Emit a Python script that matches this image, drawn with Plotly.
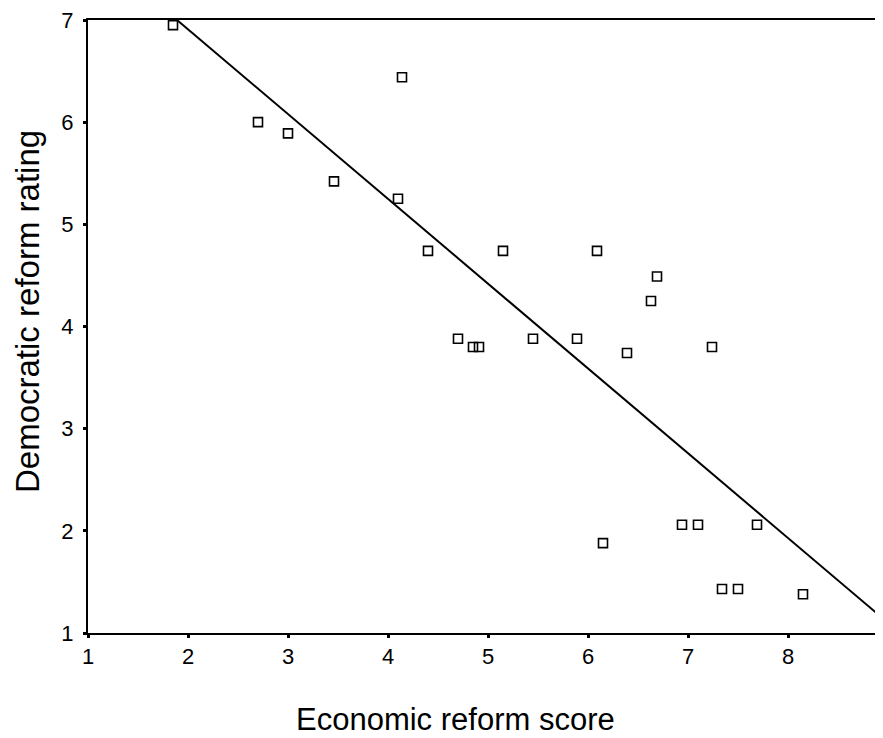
import plotly.graph_objects as go

# Data
econ_score = [1.85, 2.70, 3.00, 3.46, 4.14, 4.10, 4.40, 5.15, 6.09, 4.70,
              4.85, 4.91, 5.45, 5.89, 6.39, 6.69, 6.63, 7.24, 6.15, 6.94,
              7.10, 7.69, 7.34, 7.50, 8.15]
demo_rating = [6.95, 6.00, 5.89, 5.42, 6.44, 5.25, 4.74, 4.74, 4.74, 3.88,
               3.80, 3.80, 3.88, 3.88, 3.74, 4.49, 4.25, 3.80, 1.88, 2.06,
               2.06, 2.06, 1.43, 1.43, 1.38]

# Fitted regression line end points
fit_x = [1.89, 9.0]
fit_y = [7.0, 1.10]

x_ticks = [1, 2, 3, 4, 5, 6, 7, 8]
y_ticks = [1, 2, 3, 4, 5, 6, 7]

FONT = "Liberation Sans, Arial, sans-serif"

fig = go.Figure()
fig.add_trace(go.Scatter(
    x=fit_x, y=fit_y, mode="lines",
    line=dict(color="black", width=2),
    showlegend=False, hoverinfo="skip", cliponaxis=True,
))
fig.add_trace(go.Scatter(
    x=econ_score, y=demo_rating, mode="markers",
    marker=dict(symbol="square-open", size=9, color="black",
                line=dict(color="black", width=1.6)),
    showlegend=False, cliponaxis=False,
))

# page body has an 8px default margin, so the figure is 8px smaller
fig.update_layout(
    width=875, height=730,
    margin=dict(l=80, r=0, t=12, b=105),
    paper_bgcolor="white", plot_bgcolor="white",
    font=dict(family=FONT, color="black"),
    xaxis=dict(
        range=[1, 8.95], tickvals=x_ticks, ticktext=[str(v) for v in x_ticks],
        showgrid=False, zeroline=False,
        showline=True, linecolor="black", linewidth=2, mirror=True,
        ticks="outside", ticklen=3, tickwidth=3, tickcolor="black",
        ticklabeloverflow="allow",
        tickfont=dict(size=22, family=FONT, color="black"),
    ),
    yaxis=dict(
        range=[1, 7], tickvals=y_ticks, ticktext=[str(v) for v in y_ticks],
        showgrid=False, zeroline=False,
        showline=True, linecolor="black", linewidth=2,
        ticks="outside", ticklen=3, tickwidth=3, tickcolor="black",
        ticklabelstandoff=5, ticklabeloverflow="allow",
        tickfont=dict(size=22, family=FONT, color="black"),
    ),
    annotations=[
        dict(text="Economic reform score", xref="paper", yref="paper",
             x=(455 - 88) / 795, y=(633 - 719) / 613,
             xanchor="center", yanchor="middle", showarrow=False,
             font=dict(size=31, family=FONT, color="black")),
        dict(text="Democratic reform rating", xref="paper", yref="paper",
             x=(27 - 88) / 795, y=(633 - 312) / 613, textangle=-90,
             xanchor="center", yanchor="middle", showarrow=False,
             font=dict(size=33, family=FONT, color="black")),
        dict(text="9", xref="x", yref="paper", x=9, y=(633 - 656) / 613,
             xanchor="center", yanchor="middle", showarrow=False,
             font=dict(size=22, family=FONT, color="black")),
    ],
)

fig.write_html("out.html")
